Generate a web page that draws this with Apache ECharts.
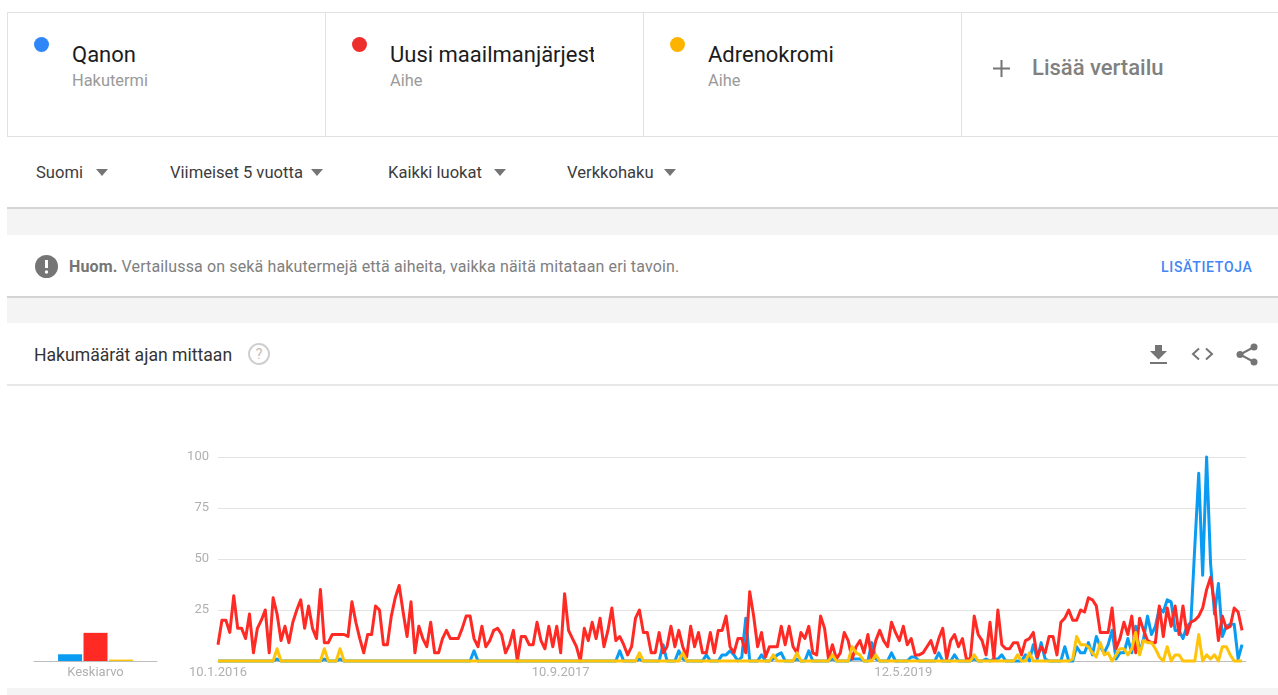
<!DOCTYPE html>
<html>
<head>
<meta charset="utf-8">
<title>Hakumäärät ajan mittaan</title>
<script src="https://cdn.jsdelivr.net/npm/echarts@6/dist/echarts.min.js"></script>
<style>
html, body { margin: 0; padding: 0; background: #fff; overflow: hidden; }
body { width: 1278px; height: 695px; position: relative; font-family: Roboto, sans-serif; }
.abs { position: absolute; white-space: nowrap; }
.band { position: absolute; left: 7px; right: 0; background: #f4f4f4; }
.shadow { position: absolute; left: 7px; right: 0; height: 2px; background: #d4d4d4; }
.cards { position: absolute; left: 7px; right: 0; top: 12px; height: 123px; border: 1px solid #e2e2e2; border-right: 0; }
.divider { position: absolute; top: 12px; height: 124px; width: 1px; background: #e2e2e2; }
.dot { position: absolute; width: 15px; height: 15px; border-radius: 50%; top: 37px; }
.term { font-size: 22px; color: #1c1c1c; top: 42px; line-height: 25px; }
.kind { font-size: 16.400px; color: #9a9a9a; top: 71px; line-height: 20px; }
.filter { font-size: 16.600px; color: #3c3c3c; top: 163px; line-height: 20px; }
.caret { position: absolute; top: 169px; width: 0; height: 0; border-left: 6px solid transparent; border-right: 6px solid transparent; border-top: 7px solid #757575; }
#chart { position: absolute; left: 0; top: 386px; width: 1278px; height: 302px; }
</style>
</head>
<body>
<div class="cards"></div>
<div class="divider" style="left:325px"></div>
<div class="divider" style="left:643px"></div>
<div class="divider" style="left:961px"></div>

<div class="dot" style="left:34px;background:#2f86f6"></div>
<div class="abs term" style="left:72px">Qanon</div>
<div class="abs kind" style="left:72px">Hakutermi</div>

<div class="dot" style="left:352px;background:#ee2d2d"></div>
<div class="abs term" style="left:390px;width:204px;overflow:hidden">Uusi maailmanjärjestys</div>
<div class="abs kind" style="left:390px">Aihe</div>

<div class="dot" style="left:670px;background:#fdb400"></div>
<div class="abs term" style="left:708px">Adrenokromi</div>
<div class="abs kind" style="left:708px">Aihe</div>

<svg class="abs" style="left:993px;top:60px" width="17" height="17"><path d="M8.5 0v17M0 8.5h17" stroke="#757575" stroke-width="2"/></svg>
<div class="abs" style="left:1032px;top:55px;font-size:22px;line-height:26px;font-weight:500;color:#808080">Lisää vertailu</div>

<div class="abs filter" style="left:36px">Suomi</div><div class="caret" style="left:96px"></div>
<div class="abs filter" style="left:170px">Viimeiset 5 vuotta</div><div class="caret" style="left:311px"></div>
<div class="abs filter" style="left:388px">Kaikki luokat</div><div class="caret" style="left:494px"></div>
<div class="abs filter" style="left:567px">Verkkohaku</div><div class="caret" style="left:664px"></div>

<div class="shadow" style="top:207px"></div>
<div class="band" style="top:209px;height:26px"></div>

<svg class="abs" style="left:35px;top:255px" width="23" height="23"><circle cx="11.5" cy="11.5" r="11.5" fill="#757575"/><path d="M11.5 5v8" stroke="#fff" stroke-width="3"/><circle cx="11.5" cy="17" r="1.7" fill="#fff"/></svg>
<div class="abs" style="left:69px;top:257px;font-size:16px;line-height:20px;color:#808080;letter-spacing:0.13px"><b style="font-weight:700;color:#757575">Huom.</b> Vertailussa on sekä hakutermejä että aiheita, vaikka näitä mitataan eri tavoin.</div>
<div class="abs" style="left:1161px;top:257px;font-size:14px;line-height:20px;font-weight:500;color:#4285f4;letter-spacing:0.7px">LISÄTIETOJA</div>

<div class="shadow" style="top:296px"></div>
<div class="band" style="top:298px;height:25px"></div>

<div class="abs" style="left:34px;top:345px;font-size:17.600px;line-height:20px;color:#333">Hakumäärät ajan mittaan</div>
<svg class="abs" style="left:248px;top:343px" width="22" height="22"><circle cx="11" cy="11" r="10" fill="none" stroke="#cfcfcf" stroke-width="2"/><text x="11" y="16" text-anchor="middle" font-family="Roboto" font-size="14" fill="#bdbdbd">?</text></svg>
<svg class="abs" style="left:1149px;top:345px" width="19" height="20"><path d="M6 0h7v6h5l-8.500 8.500L1 6h5zM1 17h17v2H1z" fill="#757575"/></svg>
<svg class="abs" style="left:1191px;top:347px" width="23" height="14" fill="none"><path d="M8 1.500L2 7l6 5.500M15 1.500L21 7l-6 5.500" stroke="#757575" stroke-width="2"/></svg>
<svg class="abs" style="left:1236px;top:343px" width="22" height="23"><path d="M18 4L4 11.500L18 19" fill="none" stroke="#757575" stroke-width="2"/><circle cx="18" cy="4" r="3.500" fill="#757575"/><circle cx="4" cy="11.500" r="3.500" fill="#757575"/><circle cx="18" cy="19" r="3.500" fill="#757575"/></svg>
<div class="abs" style="left:7px;right:0;top:384px;height:2px;background:#e8e8e8"></div>

<div id="chart"></div>
<div class="band" style="top:688px;height:7px"></div>

<script>
const seriesNames = ['Qanon', 'Uusi maailmanjärjestys', 'Adrenokromi']
const seriesColors = ['#0a9bf2', '#ff2a24', '#ffc40a']
const yTicks = [25, 50, 75, 100]
const averageLabel = 'Keskiarvo'
const averages = [3.3, 13.8, 0.7]

// viikkoarvot, kymmenen per rivi
const qanon = [
  0, 0, 0, 0, 0, 0, 0, 0, 0, 0,
  0, 0, 0, 0, 0, 1, 0, 0, 0, 0,
  0, 0, 0, 0, 0, 0, 0, 1, 0, 0,
  0, 1, 0, 0, 0, 0, 0, 0, 0, 0,
  0, 0, 0, 0, 0, 0, 0, 0, 0, 0,
  0, 0, 0, 0, 0, 0, 0, 0, 0, 0,
  0, 0, 0, 0, 0, 5, 0, 0, 0, 0,
  0, 0, 0, 0, 0, 0, 0, 0, 0, 0,
  0, 0, 0, 0, 0, 0, 0, 0, 0, 0,
  0, 0, 0, 0, 0, 0, 0, 0, 0, 0,
  0, 0, 5, 0, 0, 0, 0, 1, 0, 0,
  0, 0, 0, 8, 0, 0, 0, 5, 1, 0,
  0, 0, 0, 0, 3, 0, 0, 0, 3, 3,
  5, 3, 0, 2, 21, 0, 0, 0, 3, 0,
  0, 1, 3, 4, 0, 0, 0, 1, 0, 0,
  5, 0, 0, 0, 0, 0, 1, 0, 0, 0,
  0, 1, 1, 1, 0, 0, 9, 1, 0, 0,
  0, 4, 0, 0, 0, 0, 2, 2, 0, 0,
  0, 0, 0, 4, 0, 0, 0, 3, 0, 0,
  0, 0, 1, 0, 0, 1, 0, 1, 1, 3,
  0, 0, 0, 0, 0, 3, 0, 8, 1, 9,
  1, 0, 0, 0, 0, 7, 0, 0, 7, 4,
  4, 9, 3, 12, 7, 4, 8, 15, 1, 4,
  4, 11, 4, 17, 4, 11, 22, 13, 17, 26,
  24, 30, 29, 15, 15, 11, 17, 19, 56, 92,
  42, 100, 48, 23, 38, 12, 17, 18, 18, 1, 8
]
const uusiMaailmanjarjestys = [
  8, 20, 20, 14, 32, 16, 16, 11, 23, 4,
  16, 20, 25, 4, 31, 23, 10, 17, 9, 19,
  25, 30, 16, 27, 16, 11, 35, 9, 9, 13,
  13, 13, 13, 12, 29, 19, 11, 4, 13, 13,
  27, 25, 8, 8, 22, 31, 37, 24, 12, 29,
  4, 17, 11, 7, 19, 4, 4, 11, 15, 11,
  11, 11, 16, 22, 22, 11, 7, 17, 7, 10,
  15, 16, 13, 4, 8, 15, 0, 12, 12, 8,
  8, 19, 10, 6, 17, 7, 17, 4, 33, 15,
  11, 7, 0, 16, 10, 19, 11, 21, 7, 15,
  26, 10, 12, 8, 3, 7, 21, 25, 14, 14,
  4, 4, 14, 4, 7, 17, 7, 15, 7, 2,
  17, 7, 14, 4, 4, 14, 4, 15, 15, 22,
  7, 4, 11, 11, 4, 34, 22, 7, 14, 2,
  7, 7, 7, 17, 8, 17, 7, 4, 14, 11,
  17, 4, 3, 22, 16, 1, 8, 1, 4, 14,
  10, 1, 7, 10, 4, 13, 1, 10, 15, 10,
  7, 19, 14, 10, 17, 8, 11, 3, 3, 4,
  7, 10, 4, 11, 16, 1, 10, 13, 7, 11,
  1, 1, 22, 13, 10, 3, 19, 1, 25, 8,
  6, 6, 9, 9, 3, 10, 11, 14, 2, 7,
  4, 12, 12, 3, 19, 21, 25, 20, 20, 25,
  24, 31, 30, 27, 14, 14, 14, 26, 6, 11,
  19, 13, 22, 4, 21, 15, 10, 9, 9, 27,
  12, 26, 17, 27, 13, 27, 13, 19, 20, 22,
  26, 35, 41, 28, 10, 22, 16, 17, 26, 24, 15
]
const adrenokromi = [
  0, 0, 0, 0, 0, 0, 0, 0, 0, 0,
  0, 0, 0, 0, 0, 6, 0, 0, 0, 0,
  0, 0, 0, 0, 0, 0, 0, 6, 0, 0,
  0, 6, 0, 0, 0, 0, 0, 0, 0, 0,
  0, 0, 0, 0, 0, 0, 0, 0, 0, 0,
  0, 0, 0, 0, 0, 0, 0, 0, 0, 0,
  0, 0, 0, 0, 0, 0, 0, 0, 0, 0,
  0, 0, 0, 0, 0, 0, 0, 0, 0, 0,
  0, 0, 0, 0, 0, 0, 0, 0, 0, 0,
  0, 0, 0, 0, 0, 0, 0, 0, 0, 0,
  0, 0, 0, 0, 0, 0, 0, 4, 0, 0,
  0, 0, 0, 0, 0, 0, 0, 0, 4, 0,
  0, 0, 0, 0, 0, 0, 0, 0, 0, 0,
  0, 0, 0, 0, 0, 0, 0, 0, 0, 0,
  0, 3, 0, 0, 0, 0, 0, 4, 0, 0,
  0, 0, 0, 0, 0, 0, 3, 0, 0, 0,
  0, 7, 4, 3, 0, 0, 0, 3, 0, 0,
  0, 0, 0, 0, 0, 0, 0, 0, 0, 0,
  0, 0, 0, 0, 0, 0, 0, 0, 0, 0,
  0, 0, 3, 0, 0, 0, 0, 0, 0, 0,
  0, 0, 0, 3, 0, 0, 4, 0, 0, 0,
  0, 0, 0, 0, 0, 0, 0, 1, 12, 8,
  8, 7, 4, 2, 9, 3, 4, 0, 3, 6,
  6, 3, 6, 14, 3, 10, 9, 9, 6, 2,
  0, 7, 0, 3, 3, 0, 0, 0, 0, 13,
  0, 3, 1, 3, 0, 7, 7, 3, 0, 0, 0
]

const weekValues = [qanon, uusiMaailmanjarjestys, adrenokromi]
const labelEvery = 87 // 10.1.2016, 10.9.2017, 12.5.2019

// yksi tyhjä viikko loppuun, ruudukko jatkuu hieman viimeisen pisteen yli
const weeks = Array.from({ length: qanon.length + 1 }, (_, i) => {
  const d = new Date(2016, 0, 10 + 7 * i)
  return d.getDate() + '.' + (d.getMonth() + 1) + '.' + d.getFullYear()
})

const chart = echarts.init(document.getElementById('chart'))
const textStyle = { color: '#b0b0b0', fontSize: 13, fontFamily: 'Roboto' }

chart.setOption({
  animation: false,
  grid: [
    { left: 218, right: 32, top: 71, height: 204 },
    { left: 34, width: 123, top: 71, height: 204 }
  ],
  tooltip: { trigger: 'axis' },
  xAxis: [
    {
      type: 'category',
      gridIndex: 0,
      data: weeks,
      boundaryGap: false,
      axisLine: { lineStyle: { color: '#bdbdbd' } },
      axisTick: { show: false },
      axisLabel: {
        ...textStyle,
        margin: 5,
        interval: (i) => i % labelEvery === 0 && i < qanon.length,
        hideOverlap: false
      }
    },
    {
      type: 'category',
      gridIndex: 1,
      data: [averageLabel],
      axisLine: { lineStyle: { color: '#bdbdbd' } },
      axisTick: { show: false },
      axisLabel: { ...textStyle, margin: 5 }
    }
  ],
  yAxis: [
    {
      type: 'value',
      gridIndex: 0,
      min: 0,
      max: 100,
      interval: 25,
      axisLine: { show: false },
      axisTick: { show: false },
      splitLine: { lineStyle: { color: '#e3e3e3' } },
      axisLabel: {
        ...textStyle,
        margin: 9,
        formatter: (v) => (yTicks.includes(v) ? String(v) : '')
      }
    },
    { type: 'value', gridIndex: 1, min: 0, max: 100, show: false }
  ],
  series: [
    ...seriesNames.map((name, i) => ({
      name,
      type: 'line',
      xAxisIndex: 0,
      yAxisIndex: 0,
      data: weekValues[i],
      showSymbol: false,
      clip: false,
      lineStyle: { width: 3, color: seriesColors[i], join: 'round' },
      itemStyle: { color: seriesColors[i] }
    })),
    ...seriesNames.map((name, i) => ({
      name,
      type: 'bar',
      xAxisIndex: 1,
      yAxisIndex: 1,
      data: [averages[i]],
      barWidth: 24,
      barGap: '6%',
      itemStyle: { color: seriesColors[i] }
    }))
  ]
})
</script>
</body>
</html>
